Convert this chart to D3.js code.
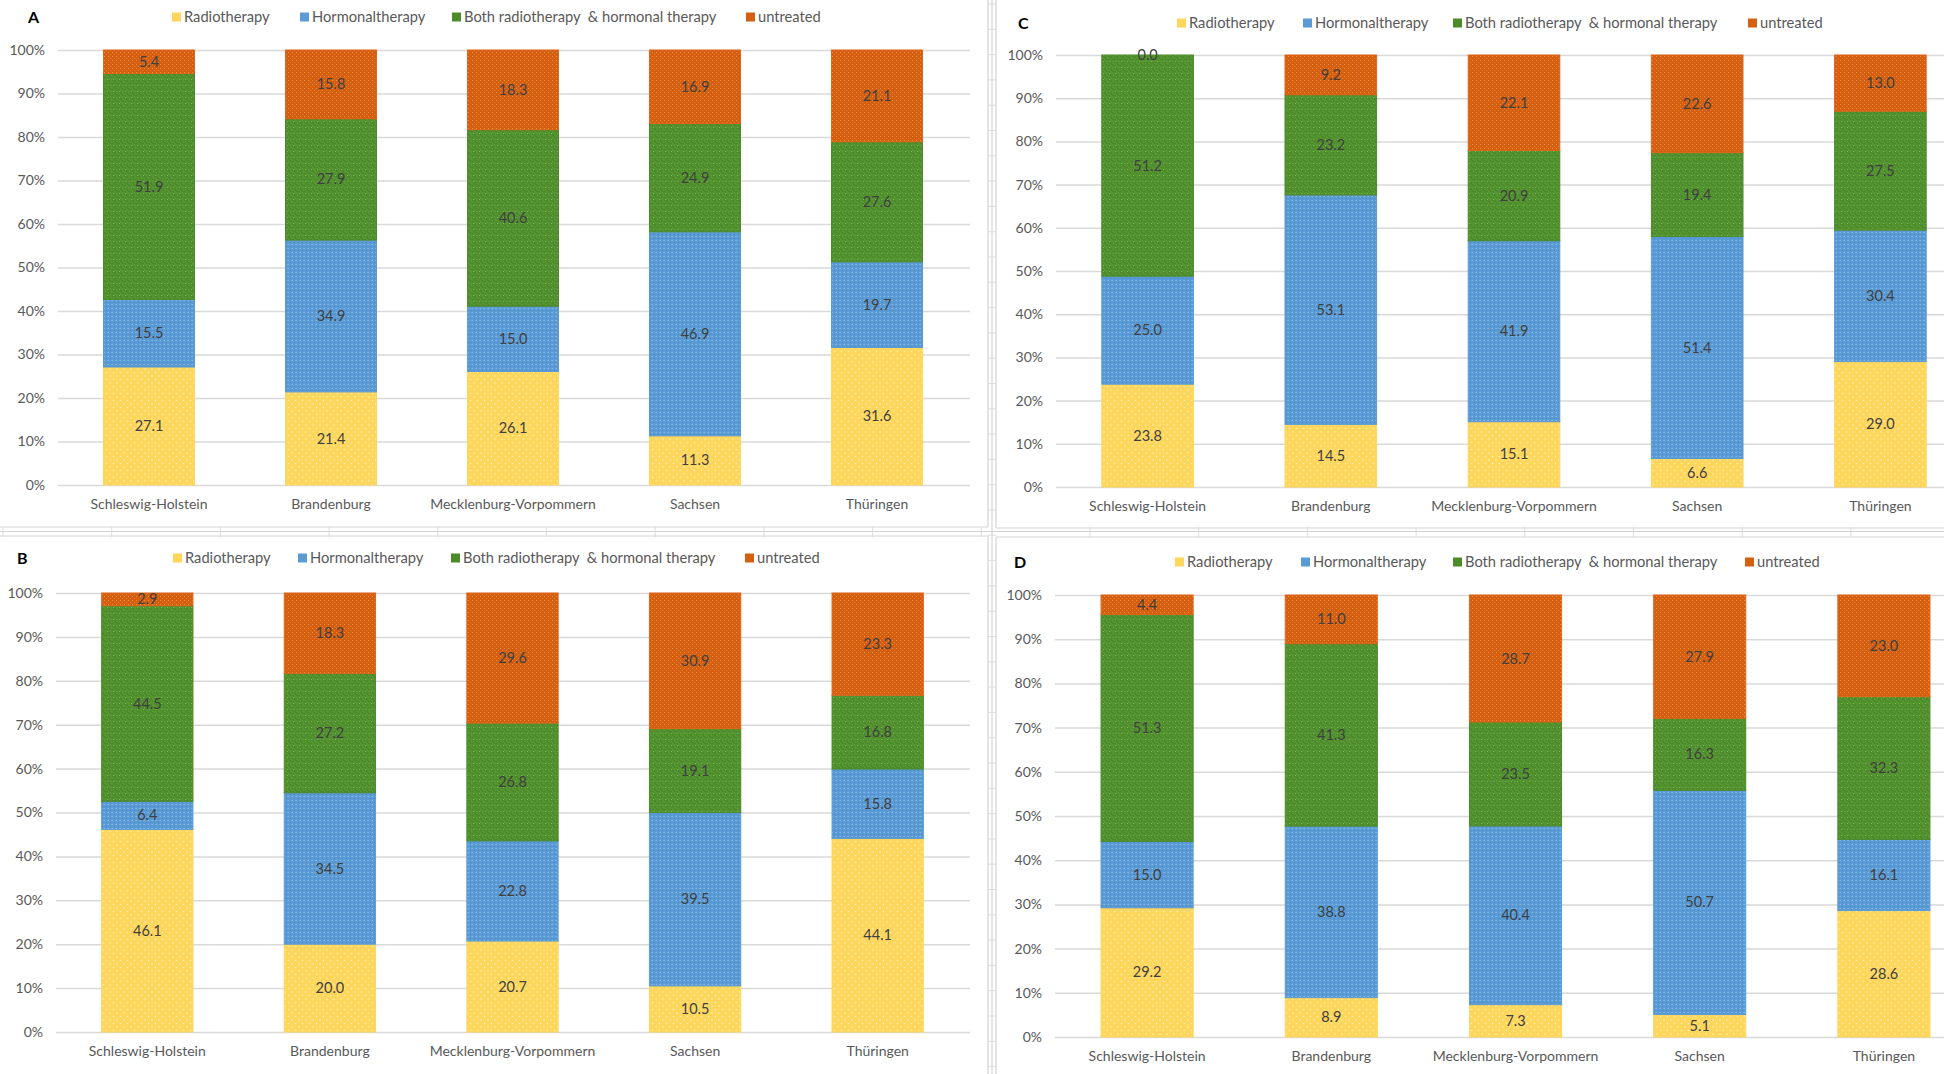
<!DOCTYPE html>
<html><head><meta charset="utf-8">
<script src="https://cdn.jsdelivr.net/npm/d3@7"></script>
<style>
html,body{margin:0;padding:0;background:#fff;}
svg{display:block;font-family:Lato,"Open Sans",sans-serif;}
</style></head><body>
<svg id="chart" width="1944" height="1074"></svg>
<script>
// ---------- DATA ----------
const categories = ["Schleswig-Holstein","Brandenburg","Mecklenburg-Vorpommern","Sachsen","Thüringen"];
const seriesNames = ["Radiotherapy","Hormonaltherapy","Both radiotherapy  & hormonal therapy","untreated"];
const yTickValues = [0,0.1,0.2,0.3,0.4,0.5,0.6,0.7,0.8,0.9,1.0];

const aRadio     = [27.1, 21.4, 26.1, 11.3, 31.6];
const aHormonal  = [15.5, 34.9, 15.0, 46.9, 19.7];
const aBoth      = [51.9, 27.9, 40.6, 24.9, 27.6];
const aUntreated = [5.4, 15.8, 18.3, 16.9, 21.1];

const bRadio     = [46.1, 20.0, 20.7, 10.5, 44.1];
const bHormonal  = [6.4, 34.5, 22.8, 39.5, 15.8];
const bBoth      = [44.5, 27.2, 26.8, 19.1, 16.8];
const bUntreated = [2.9, 18.3, 29.6, 30.9, 23.3];

const cRadio     = [23.8, 14.5, 15.1, 6.6, 29.0];
const cHormonal  = [25.0, 53.1, 41.9, 51.4, 30.4];
const cBoth      = [51.2, 23.2, 20.9, 19.4, 27.5];
const cUntreated = [0.0, 9.2, 22.1, 22.6, 13.0];

const dRadio     = [29.2, 8.9, 7.3, 5.1, 28.6];
const dHormonal  = [15.0, 38.8, 40.4, 50.7, 16.1];
const dBoth      = [51.3, 41.3, 23.5, 16.3, 32.3];
const dUntreated = [4.4, 11.0, 28.7, 27.9, 23.0];

// ---------- DRAW ----------
const svg = d3.select("#chart");
const defs = svg.append("defs");

function makePattern(id, size, base, draw){
  const p = defs.append("pattern").attr("id", id).attr("patternUnits","userSpaceOnUse")
    .attr("width", size).attr("height", size);
  p.append("rect").attr("width", size).attr("height", size).attr("fill", base);
  draw(p);
}
makePattern("pYellow", 7, "#FFD65C", p => {
  p.append("circle").attr("cx",1.5).attr("cy",1.5).attr("r",0.8).attr("fill","#FFF3B0");
  p.append("circle").attr("cx",5).attr("cy",5).attr("r",0.8).attr("fill","#FFF3B0");
});
makePattern("pBlue", 4, "#5B9BD5", p => {
  p.append("rect").attr("x",0).attr("y",0).attr("width",1).attr("height",1).attr("fill","#86B8E6");
  p.append("rect").attr("x",2).attr("y",2).attr("width",1).attr("height",1).attr("fill","#4886C4");
  p.append("rect").attr("x",3).attr("y",0).attr("width",1).attr("height",1).attr("fill","#6FA9DE");
});
makePattern("pGreen", 6, "#4C8A2A", p => {
  p.append("path").attr("d","M0,1H3V4H6M1,6V5H0M4,0V1").attr("stroke","#5E9E3A").attr("stroke-width",1).attr("fill","none");
  p.append("rect").attr("x",5).attr("y",1).attr("width",1).attr("height",1).attr("fill","#7CBF50");
});
makePattern("pOrange", 4, "#D45F10", p => {
  p.append("rect").attr("x",0).attr("y",0).attr("width",1).attr("height",1).attr("fill","#EC8C45");
  p.append("rect").attr("x",2).attr("y",2).attr("width",1).attr("height",1).attr("fill","#E47A30");
});
const fills = ["url(#pYellow)","url(#pBlue)","url(#pGreen)","url(#pOrange)"];
const strokes = ["#FFD65C","#5B9BD5","#4C8A2A","#E0661A"];
const legendFills = ["#FFD65C","#5B9BD5","#4C8A2A","#D45F10"];

// sheet grid / panel separators
const sep = svg.append("g").attr("stroke","#D4D4D4").attr("stroke-width",1.2).attr("fill","none");
[[0,527,988,527],[996,528,1944,528],[0,531.5,1944,531.5],[0,536,988,536],[996,537,1944,537],
 [988,0,988,527],[992,0,992,1074],[996,0,996,528],[988,536,988,1074],[996,537,996,1074]]
 .forEach(l => sep.append("line").attr("x1",l[0]).attr("y1",l[1]).attr("x2",l[2]).attr("y2",l[3]));
d3.range(4,1074,25.3).forEach(y => sep.append("line").attr("x1",988).attr("x2",996).attr("y1",y).attr("y2",y).attr("stroke-width",0.8));
d3.range(3,1944,108.7).forEach(x => sep.append("line").attr("x1",x).attr("x2",x).attr("y1",527).attr("y2",537).attr("stroke-width",0.8));

function drawPanel(cfg){
  const g = svg.append("g");
  const x = d3.scaleBand().domain(categories).range([cfg.x0, cfg.x1]).paddingInner(0.5).paddingOuter(0.25);
  const y = d3.scaleLinear().domain([0,1]).range([cfg.y0, cfg.y100]);

  // gridlines
  const grid = d3.axisLeft(y).tickValues(yTickValues).tickSize(-(cfg.gridEnd - cfg.x0)).tickFormat("");
  g.append("g").attr("transform",`translate(${cfg.x0},0)`).call(grid)
    .call(s => s.select(".domain").remove())
    .call(s => s.selectAll("line").attr("stroke","#D9D9D9").attr("stroke-width",1.5));
  // tick labels
  const ax = d3.axisLeft(y).tickValues(yTickValues).tickSize(0).tickPadding(13).tickFormat(d3.format(".0%"));
  g.append("g").attr("transform",`translate(${cfg.x0},0)`).call(ax)
    .call(s => s.select(".domain").remove())
    .call(s => s.selectAll("text").attr("font-family","Lato").attr("font-size",14).attr("fill","#595959"));

  // stacked data
  const rows = categories.map((c,i) => {
    const vals = cfg.series.map(s => s[i]);
    const tot = d3.sum(vals);
    return {cat:c, vals, tot};
  });
  const table = rows.map(r => {
    const o = {cat:r.cat};
    seriesNames.forEach((n,k) => o[n] = r.vals[k]/r.tot);
    return o;
  });
  const stacked = d3.stack().keys(seriesNames)(table);
  stacked.forEach((layer,k) => {
    const lg = g.append("g");
    lg.selectAll("rect").data(layer).join("rect")
      .attr("x", d => x(d.data.cat))
      .attr("width", x.bandwidth())
      .attr("y", d => y(d[1]))
      .attr("height", d => Math.max(0, y(d[0]) - y(d[1])))
      .attr("fill", fills[k]).attr("stroke", strokes[k]).attr("stroke-width", 1);
  });
  stacked.forEach((layer,k) => {
    g.append("g").selectAll("text").data(layer).join("text")
      .attr("x", d => x(d.data.cat) + x.bandwidth()/2)
      .attr("y", d => (y(d[0]) + y(d[1]))/2)
      .attr("dy","0.35em").attr("text-anchor","middle")
      .attr("font-family","Lato").attr("font-size",14.5).attr("fill","#404040")
      .text((d,i) => d3.format(".1f")(cfg.series[k][i]));
  });
  // x axis
  const xa = d3.axisBottom(x).tickSize(0).tickPadding(14);
  g.append("g").attr("transform",`translate(0,${cfg.y0})`).call(xa)
    .call(s => s.select(".domain").remove())
    .call(s => s.selectAll("text").attr("font-family","Lato").attr("font-size",14).attr("fill","#595959"));
  // panel label
  g.append("text").attr("x",cfg.labelX).attr("y",cfg.legendY).attr("dy","0.35em")
    .attr("font-family","Lato").attr("font-weight","bold").attr("font-size",16).attr("fill","#000").text(cfg.label);
  // legend
  seriesNames.forEach((n,k) => {
    const lx = cfg.legendX[k];
    g.append("rect").attr("x",lx).attr("y",cfg.legendY-4.5).attr("width",9).attr("height",9).attr("fill",legendFills[k]);
    g.append("text").attr("x",lx+12).attr("y",cfg.legendY).attr("dy","0.35em")
      .attr("font-family","Lato").attr("font-size",14.7).attr("fill","#595959")
      .style("white-space","pre").text(n);
  });
}

drawPanel({label:"A", labelX:28, x0:58, x1:968, gridEnd:970, y100:50, y0:485, legendY:17,
  legendX:[172,300,452,746], series:[aRadio,aHormonal,aBoth,aUntreated]});
drawPanel({label:"B", labelX:17, x0:56, x1:969, gridEnd:970, y100:593, y0:1032, legendY:558,
  legendX:[173,298,451,745], series:[bRadio,bHormonal,bBoth,bUntreated]});
drawPanel({label:"C", labelX:1018, x0:1056, x1:1972, gridEnd:1944, y100:55, y0:487, legendY:23,
  legendX:[1177,1303,1453,1748], series:[cRadio,cHormonal,cBoth,cUntreated]});
drawPanel({label:"D", labelX:1014, x0:1055, x1:1976, gridEnd:1944, y100:595, y0:1037, legendY:562,
  legendX:[1175,1301,1453,1745], series:[dRadio,dHormonal,dBoth,dUntreated]});
</script>
</body></html>
